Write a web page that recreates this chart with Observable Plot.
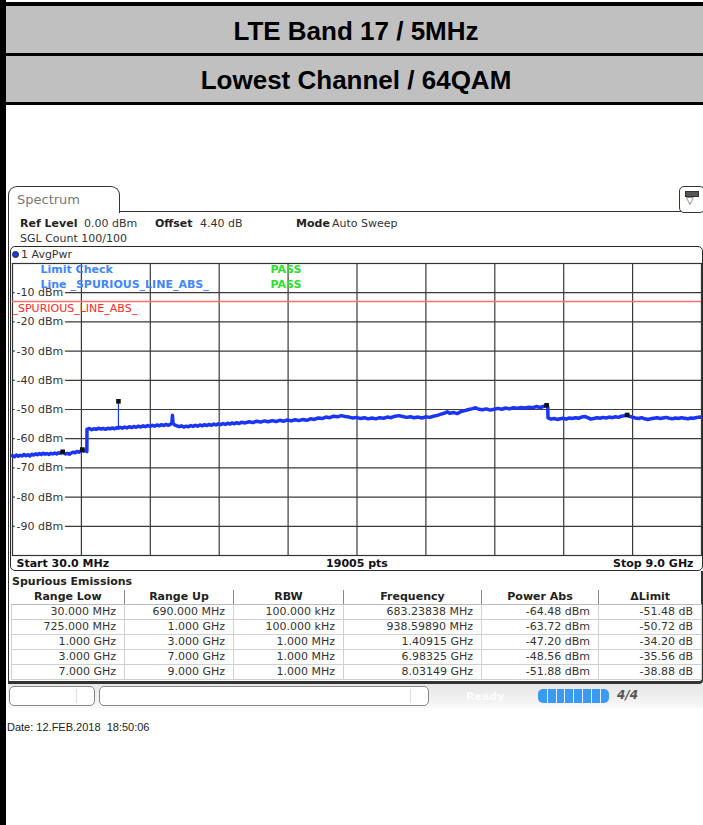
<!DOCTYPE html>
<html><head><meta charset="utf-8">
<script src="https://cdn.jsdelivr.net/npm/d3@7"></script>
<script src="https://cdn.jsdelivr.net/npm/@observablehq/plot@0.6"></script>
<style>
html,body{margin:0;padding:0;}
body{width:703px;height:825px;position:relative;overflow:hidden;background:#fff;font-family:"DejaVu Sans",sans-serif;font-size:11px;color:#333;}
.a{position:absolute;white-space:pre;line-height:11px;}
.b{font-weight:bold;}
.blk{position:absolute;background:#000;}
.gray{position:absolute;background:#c0c0c0;left:0;width:703px;}
.ttl{position:absolute;left:6px;width:703px;text-align:center;font-family:"Liberation Sans",Arial,sans-serif;font-weight:bold;font-size:26px;line-height:26px;color:#000;}
table{border-collapse:collapse;table-layout:fixed;}
td,th{padding:0 8px 0 0;height:14px;line-height:14px;font-size:11px;white-space:nowrap;}
th{text-align:center;padding:0;font-weight:bold;color:#222;border-left:1px solid #888;border-bottom:1px solid #bbb;}
td{text-align:right;color:#333;border:1px solid #d0d0d0;}
</style></head><body>
<script>
// ---------- data ----------
const titleLines = ["LTE Band 17 / 5MHz", "Lowest Channel / 64QAM"];
const yTicks = [-10, -20, -30, -40, -50, -60, -70, -80, -90];
const xGrid = [927, 1824, 2721, 3618, 4515, 5412, 6309, 7206, 8103]; // MHz, 10 divisions of 30 MHz..9 GHz
const limitLevel = -13;
const limitName = "_SPURIOUS_LINE_ABS_";
const limitCheck = ["Limit Check", "Line " + limitName];
const limitResult = ["PASS", "PASS"];
const rangeLow = ["30.000 MHz", "725.000 MHz", "1.000 GHz", "3.000 GHz", "7.000 GHz"];
const rangeUp = ["690.000 MHz", "1.000 GHz", "3.000 GHz", "7.000 GHz", "9.000 GHz"];
const rbw = ["100.000 kHz", "100.000 kHz", "1.000 MHz", "1.000 MHz", "1.000 MHz"];
const peakFreqMHz = [683.23838, 938.59890, 1409.15, 6983.25, 8031.49];
const peakFreqLabel = ["683.23838 MHz", "938.59890 MHz", "1.40915 GHz", "6.98325 GHz", "8.03149 GHz"];
const powerAbs = [-64.48, -63.72, -47.20, -48.56, -51.88];
const deltaLimit = [-51.48, -50.72, -34.20, -35.56, -38.88];
const spikeBase = [-56.4]; // trace level under the 1.40915 GHz spike
// trace [MHz, dBm]
const tracePoints = [
[30,-65.8],[55,-66.2],[80,-65.6],[105,-66.0],[130,-65.7],[155,-65.9],[180,-65.4],[205,-65.8],[230,-65.5],[255,-65.9],
[280,-65.3],[305,-65.6],[330,-65.2],[355,-65.5],[380,-65.1],[405,-65.4],[430,-65.0],[455,-65.3],[480,-65.1],[505,-65.4],
[530,-65.0],[555,-65.2],[580,-64.9],[605,-65.2],[630,-64.8],[655,-65.0],[683.24,-64.48],[700,-64.9],[720,-65.2],[745,-65.0],
[770,-65.3],[795,-64.9],[820,-64.6],[845,-64.8],[870,-64.4],[895,-64.6],[920,-64.2],[938.6,-63.72],[955,-64.3],[975,-64.0],[998,-64.4],
[1000,-56.8],[1030,-56.5],[1060,-56.9],[1090,-56.6],[1120,-56.8],[1150,-56.4],[1180,-56.7],[1210,-56.5],[1240,-56.8],[1270,-56.4],
[1300,-56.6],[1330,-56.3],[1360,-56.6],[1390,-56.2],[1409,-56.4],[1430,-56.1],[1460,-56.4],[1490,-56.0],[1520,-56.3],[1550,-55.9],
[1580,-56.2],[1610,-55.8],[1640,-56.1],[1670,-55.7],[1700,-56.0],[1730,-55.6],[1760,-55.9],[1790,-55.5],[1820,-55.8],[1850,-55.4],
[1880,-55.7],[1910,-55.3],[1940,-55.6],[1970,-55.2],[2000,-55.5],[2030,-55.1],[2060,-55.4],[2090,-55.0],[2105,-54.6],[2112,-52.0],
[2120,-54.6],[2140,-55.3],[2170,-55.6],[2200,-55.9],[2230,-55.6],[2260,-56.0],[2290,-55.7],[2320,-55.9],[2350,-55.5],[2380,-55.8],
[2410,-55.4],[2440,-55.7],[2470,-55.3],[2500,-55.6],[2530,-55.2],[2560,-55.5],[2590,-55.1],[2620,-55.4],[2650,-55.0],[2680,-55.3],
[2710,-54.9],[2740,-55.2],[2770,-54.8],[2800,-55.1],[2830,-54.7],[2860,-55.0],[2890,-54.6],[2920,-54.9],[2950,-54.5],[2980,-54.8],
[3010,-54.4],[3060,-54.6],[3110,-54.2],[3160,-54.5],[3210,-54.0],[3260,-54.3],[3310,-53.9],[3360,-54.2],[3410,-53.8],[3460,-54.1],
[3510,-53.7],[3560,-54.0],[3610,-53.6],[3660,-53.9],[3710,-53.5],[3760,-53.8],[3810,-53.4],[3860,-53.7],[3910,-53.2],[3960,-53.4],
[4010,-52.9],[4060,-53.1],[4110,-52.6],[4160,-52.8],[4210,-52.3],[4260,-52.5],[4310,-52.1],[4360,-52.4],[4410,-52.6],[4460,-52.9],
[4510,-52.7],[4560,-53.1],[4610,-52.8],[4660,-53.2],[4710,-52.9],[4760,-53.2],[4810,-52.8],[4860,-53.0],[4910,-52.6],[4960,-52.8],
[5010,-52.3],[5060,-52.1],[5110,-52.4],[5160,-52.7],[5210,-52.5],[5260,-52.8],[5310,-52.6],[5360,-52.9],[5410,-52.5],[5460,-52.7],
[5510,-52.3],[5560,-52.0],[5610,-51.6],[5660,-51.2],[5690,-50.8],[5720,-51.3],[5770,-51.0],[5820,-51.4],[5870,-50.7],[5920,-50.4],
[5970,-50.0],[6020,-49.7],[6060,-49.4],[6100,-49.9],[6150,-50.1],[6200,-49.8],[6250,-50.2],[6300,-49.9],[6350,-49.6],[6400,-49.9],
[6450,-49.5],[6500,-49.8],[6550,-49.4],[6600,-49.6],[6650,-49.3],[6700,-49.5],[6750,-49.2],[6800,-49.4],[6850,-49.0],[6900,-49.3],
[6950,-48.9],[6983.25,-48.56],[6998,-49.1],
[7002,-52.9],[7040,-53.3],[7080,-53.1],[7120,-53.4],[7160,-53.2],[7200,-53.0],[7240,-53.3],[7280,-52.9],[7320,-53.1],[7360,-52.8],
[7400,-53.0],[7440,-52.6],[7480,-52.4],[7520,-52.8],[7560,-53.3],[7600,-53.1],[7640,-52.8],[7680,-53.0],[7720,-52.7],[7760,-52.9],
[7800,-52.6],[7840,-52.8],[7880,-52.5],[7920,-52.7],[7960,-52.3],[8000,-52.1],[8031.49,-51.88],[8060,-52.3],[8100,-52.6],[8140,-52.9],
[8180,-53.1],[8220,-52.8],[8260,-53.2],[8300,-53.4],[8340,-53.2],[8380,-53.0],[8420,-52.8],[8460,-53.1],[8500,-52.9],[8540,-52.7],
[8580,-53.0],[8620,-53.2],[8660,-52.9],[8700,-53.1],[8740,-52.8],[8780,-53.0],[8820,-53.2],[8860,-52.9],[8900,-53.0],[8940,-52.7],
[8980,-52.6],[9000,-52.7]
];
const bottomLabels = ["Start 30.0 MHz", "19005 pts", "Stop 9.0 GHz"];
const tableHead = ["Range Low", "Range Up", "RBW", "Frequency", "Power Abs", "\u0394Limit"];
const dateText = "Date: 12.FEB.2018  18:50:06";

// ---------- page chrome ----------
function el(tag, cls, style, text) {
  const e = document.createElement(tag);
  if (cls) e.className = cls;
  if (style) e.setAttribute("style", style);
  if (text != null) e.textContent = text;
  document.body.appendChild(e);
  return e;
}
el("div", "gray", "top:6px;height:47px;");
el("div", "gray", "top:56px;height:46px;");
el("div", "blk", "left:0;top:2px;width:703px;height:4px;");
el("div", "blk", "left:0;top:53px;width:703px;height:3px;");
el("div", "blk", "left:0;top:102px;width:703px;height:3px;");
el("div", "blk", "left:0;top:0;width:6px;height:825px;");
el("div", "ttl", "top:18px;width:700px;", titleLines[0]);
el("div", "ttl", "top:67px;width:700px;", titleLines[1]);

// panel
el("div", "", "position:absolute;left:8px;top:211px;width:695px;height:473px;border-left:1.5px solid #333;border-top:1.5px solid #333;box-sizing:border-box;");
el("div", "", "position:absolute;left:8px;top:186px;width:112px;height:27px;border:1.5px solid #333;border-bottom:none;border-radius:9px 9px 0 0;background:#fff;box-sizing:border-box;");
el("div", "a", "left:17px;top:193px;font-size:13px;line-height:13px;color:#777;", "Spectrum");
const icon = el("div", "", "position:absolute;left:679px;top:186px;width:26px;height:27px;border:1.5px solid #333;border-radius:5px;background:#fff;box-sizing:border-box;");
icon.innerHTML = '<div style="position:absolute;left:5px;top:4px;width:12px;height:4px;background:#555;border:1px solid #333"></div><div style="position:absolute;left:6px;top:8px;font-size:10px;line-height:12px;color:#333">\u25BD</div>';

el("div", "a b", "left:20px;top:218px;color:#222;", "Ref Level");
el("div", "a", "left:84px;top:218px;", "0.00 dBm");
el("div", "a b", "left:155px;top:218px;color:#222;", "Offset");
el("div", "a", "left:200px;top:218px;", "4.40 dB");
el("div", "a b", "left:296px;top:218px;color:#222;", "Mode");
el("div", "a", "left:332px;top:218px;", "Auto Sweep");
el("div", "a", "left:20px;top:233px;", "SGL Count 100/100");

// plot frame box
el("div", "", "position:absolute;left:10px;top:246px;width:693px;height:325px;border:1.5px solid #2a2a2a;border-radius:5px;box-sizing:border-box;z-index:3;");
el("div", "", "position:absolute;left:12px;top:251px;width:7px;height:7px;border-radius:50%;background:#1a3cf0;border:1px solid #223;box-sizing:border-box;");
el("div", "a", "left:21px;top:249px;", "1 AvgPwr");

// ---------- chart ----------
const trace = tracePoints.map(([f, v]) => ({f, v}));
const peaks = peakFreqMHz.map((f, i) => ({f, v: powerAbs[i]}));
const spikes = [{f: peakFreqMHz[2], base: spikeBase[0], top: powerAbs[2]}];
const blue = "#1b35f5";
const chart = Plot.plot({
  width: 703, height: 324,
  marginTop: 16, marginBottom: 16, marginLeft: 12, marginRight: 2,
  x: {domain: [30, 9000], axis: null},
  y: {domain: [-100, 0], axis: null},
  style: {background: "transparent", fontFamily: "DejaVu Sans", fontSize: "11px", overflow: "visible"},
  marks: [
    Plot.ruleY(yTicks, {stroke: "#3a3a3a", strokeWidth: 1.2}),
    Plot.ruleX(xGrid, {stroke: "#3a3a3a", strokeWidth: 1.2}),
    Plot.frame({stroke: "#333", strokeWidth: 1.2}),
    Plot.ruleY([limitLevel], {stroke: "#ff6c6c", strokeWidth: 1.6}),
    Plot.text(yTicks, {y: d => d, frameAnchor: "left", dx: 4, text: d => `${d} dBm`, textAnchor: "start", lineAnchor: "middle", fill: "#333", stroke: "white", strokeWidth: 5}),
    Plot.text([limitName], {y: limitLevel, frameAnchor: "left", dx: 0, dy: 7, text: d => d, textAnchor: "start", lineAnchor: "middle", fill: "#ff2a2a"}),
    Plot.text(limitCheck, {frameAnchor: "top-left", dx: 28, dy: (d, i) => 0, y: null, text: d => d, textAnchor: "start", lineAnchor: "middle", fill: "#3f86ff", fontWeight: "bold", filter: (d, i) => i === 0, dy: 6}),
    Plot.text(limitCheck, {frameAnchor: "top-left", dx: 28, text: d => d, textAnchor: "start", lineAnchor: "middle", fill: "#3f86ff", fontWeight: "bold", filter: (d, i) => i === 1, dy: 21}),
    Plot.text(limitResult, {frameAnchor: "top-left", dx: 258, text: d => d, textAnchor: "start", lineAnchor: "middle", fill: "#2ee02e", fontWeight: "bold", filter: (d, i) => i === 0, dy: 6}),
    Plot.text(limitResult, {frameAnchor: "top-left", dx: 258, text: d => d, textAnchor: "start", lineAnchor: "middle", fill: "#2ee02e", fontWeight: "bold", filter: (d, i) => i === 1, dy: 21}),
    Plot.line(trace, {x: "f", y: "v", stroke: blue, strokeWidth: 3.5}),
    Plot.ruleX(spikes, {x: "f", y1: "base", y2: "top", stroke: blue, strokeWidth: 1.2}),
    Plot.dot(peaks, {x: "f", y: "v", symbol: "square", fill: "#111", r: 2.6}),
    Plot.text([bottomLabels[0]], {frameAnchor: "bottom-left", dx: 4, dy: 8, text: d => d, textAnchor: "start", lineAnchor: "middle", fill: "#111", fontWeight: "bold"}),
    Plot.text([bottomLabels[1]], {frameAnchor: "bottom", dx: 0, dy: 8, text: d => d, lineAnchor: "middle", fill: "#111", fontWeight: "bold"}),
    Plot.text([bottomLabels[2]], {frameAnchor: "bottom-right", dx: -8, dy: 8, text: d => d, textAnchor: "end", lineAnchor: "middle", fill: "#111", fontWeight: "bold"})
  ]
});
const holder = el("div", "", "position:absolute;left:0;top:247px;width:703px;height:324px;z-index:2;");
holder.appendChild(chart);

// ---------- table ----------
el("div", "", "position:absolute;left:8px;top:571px;width:695px;height:113px;border-right:2px solid #333;border-bottom:3px solid #333;border-radius:0 0 4px 0;box-sizing:border-box;");
el("div", "a b", "left:12px;top:576px;color:#222;", "Spurious Emissions");
const tbl = el("table", "", "position:absolute;left:11px;top:590px;width:690px;");
const widths = [113, 109, 110, 138, 117, 103];
let html = "<colgroup>" + widths.map(w => `<col style="width:${w}px">`).join("") + "</colgroup><tr>";
html += tableHead.map((h, i) => `<th style="${i === 0 ? 'border-left:none;' : ''}">${h}</th>`).join("") + "</tr>";
for (let i = 0; i < rangeLow.length; i++) {
  const cells = [rangeLow[i], rangeUp[i], rbw[i], peakFreqLabel[i], powerAbs[i].toFixed(2) + " dBm", deltaLimit[i].toFixed(2) + " dB"];
  html += "<tr>" + cells.map(c => `<td>${c}</td>`).join("") + "</tr>";
}
tbl.innerHTML = html;

// ---------- status bar ----------
el("div", "", "position:absolute;left:8px;top:684px;width:695px;height:24px;background:linear-gradient(#e6e6e6,#f8f8f8);");
el("div", "", "position:absolute;left:9px;top:686px;width:86px;height:20px;border:1px solid #888;border-radius:5px;background:#fff;box-sizing:border-box;");
el("div", "", "position:absolute;left:76px;top:689px;width:1px;height:14px;background:#ddd;");
el("div", "", "position:absolute;left:99px;top:686px;width:330px;height:20px;border:1px solid #888;border-radius:5px;background:#fff;box-sizing:border-box;");
el("div", "", "position:absolute;left:410px;top:689px;width:1px;height:14px;background:#ddd;");
el("div", "a b", "left:466px;top:691px;color:#fbfbfb;", "Ready");
const bar = el("div", "", "position:absolute;left:538px;top:689px;width:71px;height:14px;border-radius:5px;background:#3a9af2;overflow:hidden;");
let seg = "";
for (let i = 1; i < 8; i++) seg += `<div style="position:absolute;left:${i * 8.8}px;top:0;width:1px;height:14px;background:#e8f2ff"></div>`;
bar.innerHTML = seg;
el("div", "a b", "left:617px;top:690px;color:#555;font-style:italic;font-size:12px;", "4/4");

// ---------- date ----------
el("div", "a", "left:7px;top:722px;font-family:'Liberation Sans',Arial,sans-serif;font-size:11px;color:#222;", dateText);
</script>
</body></html>
